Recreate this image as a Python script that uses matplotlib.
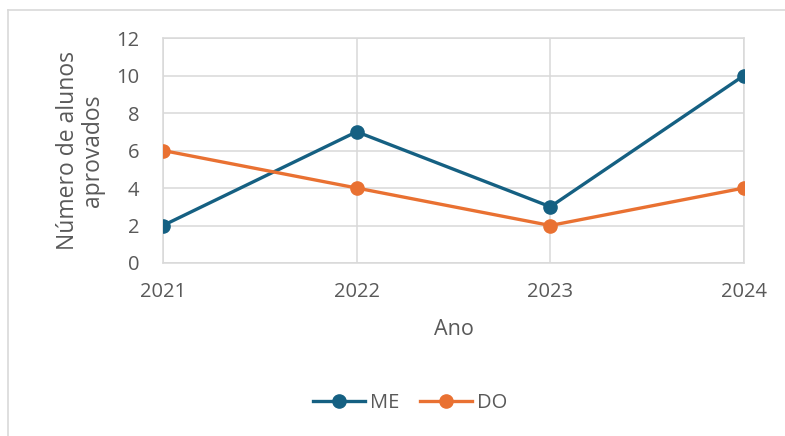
import matplotlib.pyplot as plt
from matplotlib.lines import Line2D

anos = [2021, 2022, 2023, 2024]
me = [2, 7, 3, 10]
do = [6, 4, 2, 4]
y_ticks = [0, 2, 4, 6, 8, 10, 12]

plt.rcParams['font.family'] = ['Open Sans', 'DejaVu Sans']
cinza = '#595959'

fig = plt.figure(figsize=(7.85, 4.36), dpi=100)
ax = fig.add_axes([163 / 785, 1 - 263 / 436, (744 - 163) / 785, (263 - 38) / 436])

ax.plot(anos, me, color='#156082', lw=2.4, marker='o', ms=9.5, label='ME', zorder=3)
ax.plot(anos, do, color='#E97132', lw=2.4, marker='o', ms=9.5, label='DO', zorder=3)

ax.set_xlim(2021, 2024)
ax.set_ylim(0, 12)
ax.set_xticks(anos)
ax.set_yticks(y_ticks)
ax.grid(True, color='#d9d9d9', lw=1.1)
ax.set_axisbelow(True)
for s in ax.spines.values():
    s.set_color('#d9d9d9')
    s.set_linewidth(1.1)
ax.tick_params(length=0, labelsize=14.5, labelcolor=cinza)
ax.tick_params(axis='x', pad=14)
ax.tick_params(axis='y', pad=17)
for lab in ax.get_xticklabels() + ax.get_yticklabels():
    lab.set_clip_on(False)

ax.set_xlabel('Ano', fontsize=15.5, color=cinza, labelpad=12)
ax.set_ylabel('Número de alunos\naprovados', fontsize=16.5, color=cinza,
              labelpad=8, linespacing=1.05)

fig.legend(loc='center', bbox_to_anchor=(410 / 785, 1 - 403 / 436), ncol=2,
           frameon=False, fontsize=14.5, labelcolor=cinza, handlelength=2.6,
           columnspacing=1.0, handletextpad=0.25)

# moldura do gráfico
fig.add_artist(Line2D([8 / 785, 1], [1 - 10 / 436] * 2, color='#d9d9d9', lw=1.2))
fig.add_artist(Line2D([8 / 785] * 2, [0, 1 - 10 / 436], color='#d9d9d9', lw=1.2))

fig.savefig('out.png', dpi=100)
